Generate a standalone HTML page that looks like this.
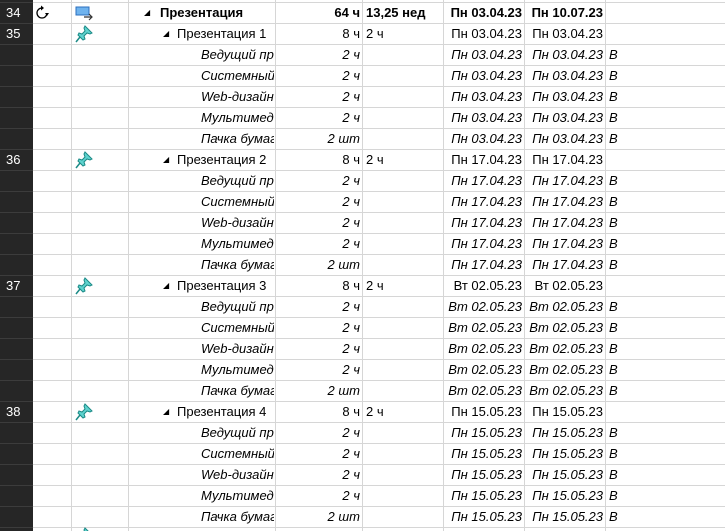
<!DOCTYPE html>
<html><head><meta charset="utf-8">
<style>
html,body{margin:0;width:727px;height:531px;overflow:hidden;background:#fff;font-family:"Liberation Sans","DejaVu Sans",sans-serif;font-size:13px;color:#000}
#g{position:relative;width:727px;height:531px;overflow:hidden}
.dk{position:absolute;left:0;top:0;width:33px;height:531px;background:#262626}
.hl{position:absolute;left:33px;width:692px;height:1px;background:#d6d6d6}
.hl2{position:absolute;left:0;width:33px;height:1px;background:#3c3c3c}
.vl{position:absolute;top:0;width:1px;height:531px;background:#d6d6d6}
.c{position:absolute;height:20px;line-height:20px;white-space:nowrap;overflow:hidden}
.num{color:#fff;left:6px;width:26px}
.it{font-style:italic}
.b{font-weight:bold}
.r{text-align:right}
</style></head><body>
<div id="g">
<div class="dk"></div>
</div>
<script>
const g=document.getElementById('g');
const res=['Ведущий программист','Системный аналитик','Web-дизайнер','Мультимедиа','Пачка бумаги'];
const groups=[['35','Презентация 1','Пн 03.04.23'],['36','Презентация 2','Пн 17.04.23'],['37','Презентация 3','Вт 02.05.23'],['38','Презентация 4','Пн 15.05.23']];
const rows=[{num:'34',type:'sum',name:'Презентация',work:'64 ч',dur:'13,25 нед',s:'Пн 03.04.23',f:'Пн 10.07.23'}];
groups.forEach(gr=>{
  rows.push({num:gr[0],type:'task',name:gr[1],work:'8 ч',dur:'2 ч',s:gr[2],f:gr[2]});
  res.forEach((r,i)=>rows.push({num:'',type:'res',name:r,work:i==4?'2 шт':'2 ч',dur:'',s:gr[2],f:gr[2]}));
});
function cell(txt,x,w,y,cls,name){
  const d=document.createElement('div');
  d.className='c '+cls;
  d.style.left=x+'px';d.style.width=w+'px';d.style.top=y+'px';
  d.textContent=txt;
  
  
  g.appendChild(d);return d;
}
[71,128,275,362,443,524,605].forEach(x=>{
  const v=document.createElement('div');v.className='vl';v.style.left=x+'px';
  
  
  g.appendChild(v);
});
for(let i=0;i<26;i++){
  const y=2+21*i;
  const h=document.createElement('div');h.className='hl';h.style.top=y+'px';
  
  
  g.appendChild(h);
  const h2=document.createElement('div');h2.className='hl2';h2.style.top=y+'px';
  
  
  g.appendChild(h2);
}
const pin='<svg width="18" height="18" viewBox="0 0 18 18"><path d="M10 1 L17 8 L15 9 L12 8 L9 11 L10 14 L8 15 L3 10 L4 8 L7 9 L10 6 L9 3 Z" fill="#5fd3cf" stroke="#1b8a86" stroke-width="1"/><path d="M5 12 L1 17" stroke="#1b8a86" stroke-width="1.5"/></svg>';
function icon(html,x,y,name){
  const d=document.createElement('div');d.style.position='absolute';d.style.left=x+'px';d.style.top=y+'px';
  d.innerHTML=html;
  
  
  g.appendChild(d);
}
rows.forEach((r,i)=>{
  const y=3+21*i;
  const it=r.type=='res'?' it':'';
  const bd=r.type=='sum'?' b':'';
  if(r.num) cell(r.num,6,26,y,'num','row-number');
  if(r.type=='sum'){
    icon('<svg width="18" height="18" viewBox="0 0 18 18"><path d="M14 9 A5 5 0 1 1 9 4" fill="none" stroke="#000" stroke-width="1.3"/><path d="M8 1.5 L11 4 L8 6.5 Z"/><path d="M4 9 A5 5 0 0 1 9 14" fill="none"/><path d="M12 9 L14 12 L16 9Z"/></svg>',33,y+1,'recurring-icon');
    icon('<svg width="20" height="16" viewBox="0 0 20 16"><rect x="1" y="2" width="13" height="8" fill="#6fb3ee" stroke="#2b6fbf"/><path d="M9 12 H17 M14 9 L17 12 L14 15" stroke="#333" fill="none" stroke-width="1.2"/></svg>',75,y+2,'task-mode-icon');
    cell('◢',144,12,y,'','collapse-toggle').style.fontSize='8px';
    cell(r.name,160,114,y,'b','task-name');
  } else if(r.type=='task'){
    icon(pin,75,y+1,'pin-icon');
    cell('◢',163,12,y,'','collapse-toggle').style.fontSize='8px';
    cell(r.name,177,97,y,'','task-name');
  } else {
    cell(r.name,201,73,y,'it','resource-name');
    cell('В',609,20,y,'it','resource-initials');
  }
  cell(r.work,277,83,y,'r'+it+bd,'work');
  if(r.dur) cell(r.dur,366,76,y,bd,'duration');
  cell(r.s,445,77,y,'r'+it+bd,'start-date');
  cell(r.f,526,77,y,'r'+it+bd,'finish-date');
});
icon(pin,75,527,'pin-icon');
</script>
</body></html>
